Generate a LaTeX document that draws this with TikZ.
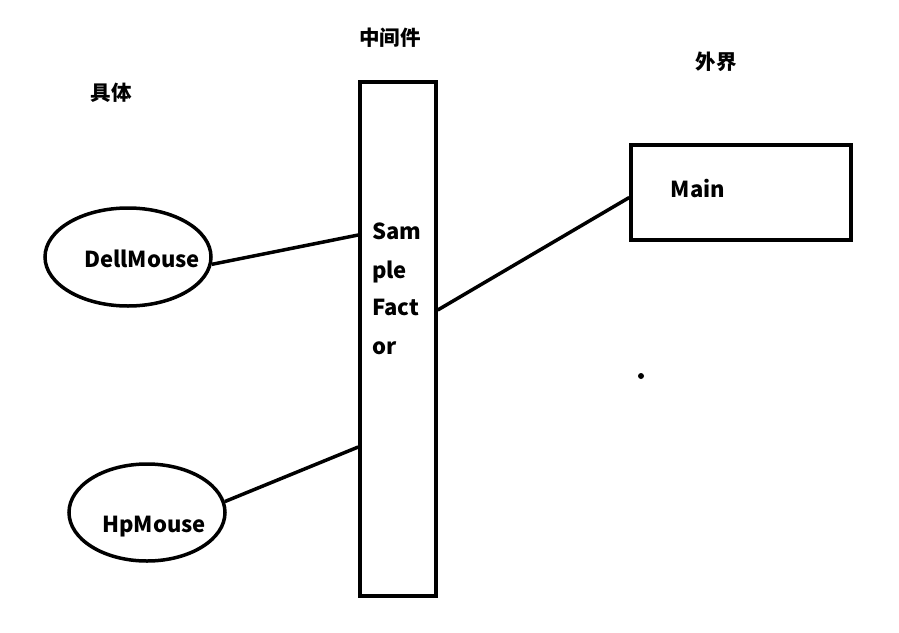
\documentclass[tikz,border=0pt]{standalone}
\usepackage{fontspec}
\setmainfont{Noto Sans CJK SC}
\usetikzlibrary{shapes.geometric}
\begin{document}
\begin{tikzpicture}[x=1pt,y=-1pt,
  shp/.style={draw=black,line width=3.5pt,inner sep=0pt},
  conn/.style={draw=black,line width=3.5pt},
  txt/.style={font=\fontsize{22}{26}\selectfont\bfseries,inner sep=0pt},
  lbl/.style={font=\fontsize{20.5}{24}\selectfont\bfseries,inner sep=0pt}]
\useasboundingbox[fill=white] (0,0) rectangle (899,632);
% shapes
\node[shp,rectangle,minimum width=76pt,minimum height=514pt] (fac) at (398,339) {};
\node[shp,rectangle,minimum width=220pt,minimum height=95pt] (main) at (741,192.5) {};
\node[shp,ellipse,minimum width=166pt,minimum height=98pt] (dell) at (128,257) {};
\node[shp,ellipse,minimum width=156pt,minimum height=97pt] (hp) at (147,512.5) {};
% texts
\node[txt,anchor=base] (dellt) at (142,267) {DellMouse};
\node[txt,anchor=base] (hpt) at (154,532) {HpMouse};
\node[txt,anchor=base] (maint) at (698,197) {Main};
\node[txt,anchor=base west] (f1) at (372,239) {Sam};
\node[txt,anchor=base west] (f2) at (372,278) {ple};
\node[txt,anchor=base west] (f3) at (372,315) {Fact};
\node[txt,anchor=base west] (f4) at (372,354) {or};
\node[lbl] (l1) at (111,93) {具体};
\node[lbl] (l2) at (390,38) {中间件};
\node[lbl] (l3) at (716,62) {外界};
% connectors
\draw[conn] (dell.-5) -- ([yshift=104pt]fac.west);
\draw[conn] (hp.8) -- ([yshift=-108pt]fac.west);
\draw[conn] ([yshift=29pt]fac.east) -- ([yshift=-5pt]main.west);
% dot
\fill (641,376) circle (3pt);
\end{tikzpicture}
\end{document}
